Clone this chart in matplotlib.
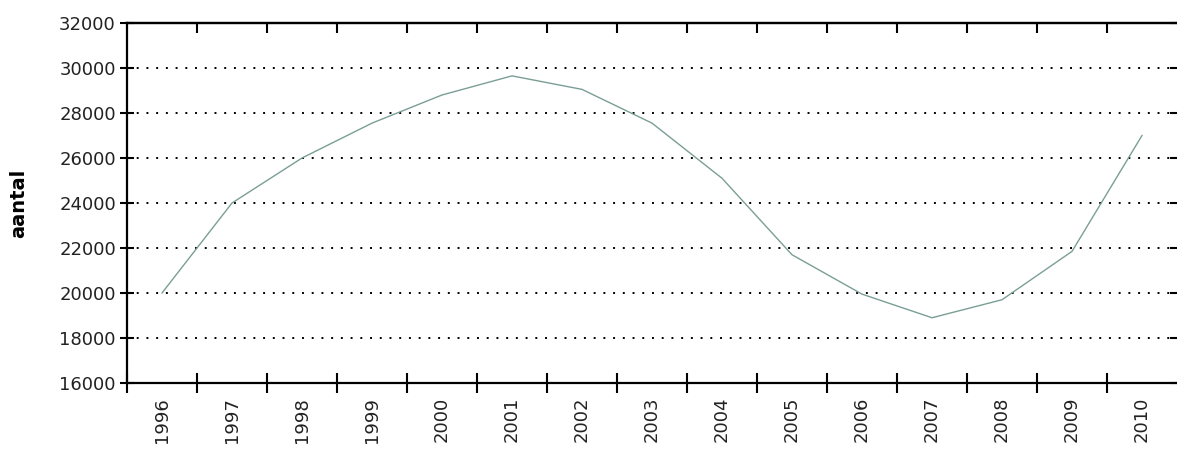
import matplotlib
matplotlib.use("Agg")
import matplotlib.pyplot as plt
import numpy as np

years = ["1996", "1997", "1998", "1999", "2000", "2001", "2002", "2003",
         "2004", "2005", "2006", "2007", "2008", "2009", "2010"]
aantal = [20000, 24000, 26000, 27550, 28800, 29650, 29050, 27550,
          25100, 21700, 19950, 18900, 19700, 21850, 27000]
y_ticks = [16000, 18000, 20000, 22000, 24000, 26000, 28000, 30000, 32000]

plt.rcParams['font.family'] = ['DejaVu Sans']

fig = plt.figure(figsize=(11.77, 4.5), dpi=100)
ax = fig.add_axes([127/1177, 1 - 383/450, 1 - 127/1177, (383 - 23)/450])

x = np.arange(len(years))
ax.plot(x, aantal, color='#7a9e96', lw=1.0)

ax.set_xlim(-0.5, len(years) - 0.5)
ax.set_ylim(y_ticks[0], y_ticks[-1])

# y axis
ax.set_yticks(y_ticks)
ax.set_yticklabels([str(v) for v in y_ticks], fontsize=13, color='#222222')
ax.tick_params(axis='y', which='major', direction='inout', length=10, width=1.5,
               left=True, right=True, pad=3)
for v in y_ticks[1:-1]:
    ax.axhline(v, color='black', lw=1.4, linestyle=(0, (1, 4)), zorder=0)

# x axis: ticks at category boundaries, labels at centers
bounds = np.arange(len(years)) - 0.5
ax.set_xticks(bounds)
ax.set_xticklabels([''] * len(bounds))
ax.set_xticks(x, minor=True)
ax.set_xticklabels(years, minor=True, rotation=90, fontsize=13, color='#222222')
ax.tick_params(axis='x', which='major', direction='inout', length=14, width=1.5,
               top=False, bottom=True)
ax.tick_params(axis='x', which='minor', length=0, pad=10)

# top axis: short inward ticks
secax = ax.secondary_xaxis('top')
secax.set_xticks(bounds[1:])
secax.set_xticklabels([''] * len(bounds[1:]))
secax.tick_params(direction='in', length=7, width=1.5)
secax.spines['top'].set_linewidth(1.6)

for s in ['left', 'top', 'bottom']:
    ax.spines[s].set_linewidth(1.6)
ax.spines['right'].set_visible(False)

ax.set_ylabel('aantal', fontsize=14, fontweight='bold')
ax.yaxis.set_label_coords(-0.094, 0.5)

fig.savefig('out.png', dpi=100)
